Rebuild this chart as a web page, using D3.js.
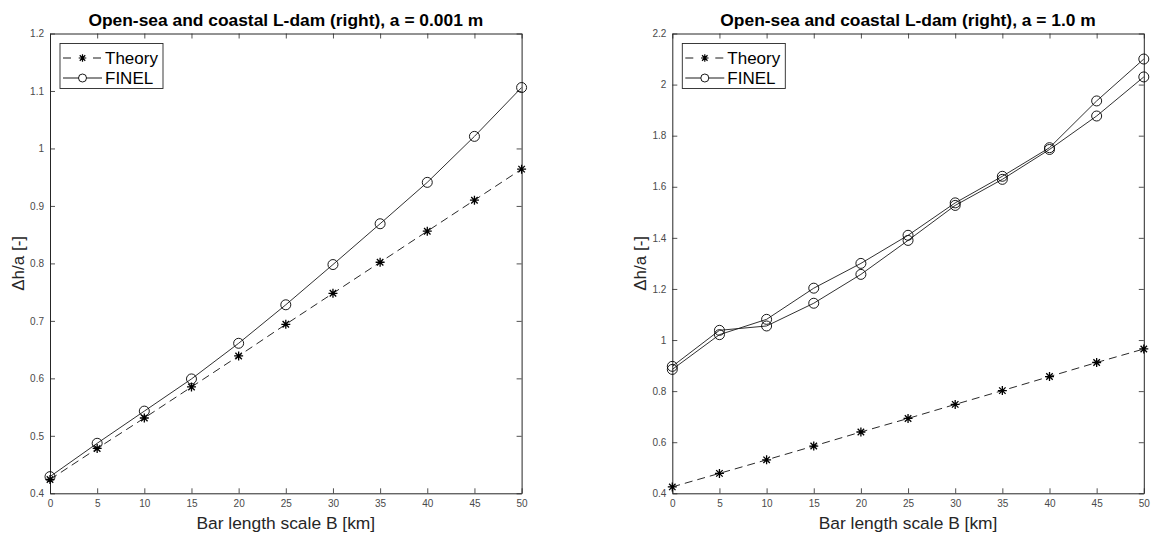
<!DOCTYPE html>
<html><head><meta charset="utf-8">
<script src="https://cdn.jsdelivr.net/npm/d3@7"></script>
<style>
body{margin:0;background:#fff}
svg{display:block;font-family:"Liberation Sans",Arial,Helvetica,sans-serif}
</style>
</head><body>
<svg id="chart" width="1161" height="536"></svg>
<script>
// ---------------- data ----------------
const barLengthB = [0, 5, 10, 15, 20, 25, 30, 35, 40, 45, 50];
const xTicks = [0, 5, 10, 15, 20, 25, 30, 35, 40, 45, 50];

// left panel: a = 0.001 m
const theoryLeft = [0.424, 0.478, 0.531, 0.585, 0.639, 0.694, 0.748, 0.802, 0.856, 0.910, 0.964];
const finelLeft  = [0.429, 0.487, 0.543, 0.599, 0.661, 0.728, 0.798, 0.869, 0.941, 1.021, 1.106];
const yTicksLeft = [0.4, 0.5, 0.6, 0.7, 0.8, 0.9, 1.0, 1.1, 1.2];

// right panel: a = 1.0 m
const theoryRight = [0.425, 0.478, 0.531, 0.585, 0.640, 0.693, 0.748, 0.802, 0.857, 0.912, 0.965];
const finelRightA = [0.897, 1.038, 1.055, 1.144, 1.257, 1.390, 1.527, 1.629, 1.746, 1.877, 2.030];
const finelRightB = [0.885, 1.021, 1.081, 1.203, 1.300, 1.410, 1.537, 1.641, 1.753, 1.936, 2.100];
const yTicksRight = [0.4, 0.6, 0.8, 1.0, 1.2, 1.4, 1.6, 1.8, 2.0, 2.2];

const titles = ["Open-sea and coastal L-dam (right), a = 0.001 m",
                "Open-sea and coastal L-dam (right), a = 1.0 m"];
const xLabel = "Bar length scale B [km]";
const yLabel = "\u0394h/a [-]";
const legendLabels = ["Theory", "FINEL"];

// ---------------- drawing ----------------
const svg = d3.select("#chart");
const AX = "#262626";

const panels = [
  {x0: 50, x1: 521.6, y0: 33.5, y1: 493.3, yDomain: [0.4, 1.2], yTicks: yTicksLeft,
   title: titles[0], theory: theoryLeft, finel: [finelLeft]},
  {x0: 672.3, x1: 1143.8, y0: 33.5, y1: 493.3, yDomain: [0.4, 2.2], yTicks: yTicksRight,
   title: titles[1], theory: theoryRight, finel: [finelRightA, finelRightB]}
];

const fmt = d => String(+d.toFixed(1));

function starPath(s) {
  const d = s * 0.72;
  return `M${-s},0L${s},0M0,${-s}L0,${s}M${-d},${-d}L${d},${d}M${-d},${d}L${d},${-d}`;
}

panels.forEach(p => {
  const x = d3.scaleLinear().domain([0, 50]).range([p.x0, p.x1]);
  const y = d3.scaleLinear().domain(p.yDomain).range([p.y1, p.y0]);
  const g = svg.append("g");

  // axes
  const axB = g.append("g").attr("transform", `translate(0,${p.y1})`)
    .call(d3.axisBottom(x).tickValues(xTicks).tickFormat(fmt).tickSizeInner(-5).tickSizeOuter(0).tickPadding(7));
  const axL = g.append("g").attr("transform", `translate(${p.x0},0)`)
    .call(d3.axisLeft(y).tickValues(p.yTicks).tickFormat(fmt).tickSizeInner(-5).tickSizeOuter(0).tickPadding(6));
  const axT = g.append("g").attr("transform", `translate(0,${p.y0})`)
    .call(d3.axisTop(x).tickValues(xTicks).tickFormat("").tickSizeInner(-5).tickSizeOuter(0));
  const axR = g.append("g").attr("transform", `translate(${p.x1},0)`)
    .call(d3.axisRight(y).tickValues(p.yTicks).tickFormat("").tickSizeInner(-5).tickSizeOuter(0));
  [axB, axL, axT, axR].forEach(a => {
    a.select(".domain").attr("stroke", AX).attr("stroke-width", 1);
    a.selectAll(".tick line").attr("stroke", AX).attr("stroke-width", 0.8);
    a.selectAll("text").attr("fill", "#4a4a4a").style("font-size", "10px")
      .style("font-family", '"Liberation Sans",Arial,sans-serif');
  });

  // title
  g.append("text").attr("x", (p.x0 + p.x1) / 2).attr("y", 26)
    .attr("text-anchor", "middle").style("font-size", "17.4px").style("font-weight", "bold")
    .attr("fill", "#000").text(p.title);
  // x label
  g.append("text").attr("x", (p.x0 + p.x1) / 2).attr("y", 529)
    .attr("text-anchor", "middle").style("font-size", "17.4px").attr("fill", "#262626").text(xLabel);
  // y label
  g.append("text").attr("transform", `translate(${p.x0 - 26},${(p.y0 + p.y1) / 2}) rotate(-90)`)
    .attr("text-anchor", "middle").style("font-size", "17px").attr("fill", "#262626").text(yLabel);

  const line = d3.line().x((d, i) => x(barLengthB[i])).y(d => y(d));

  // theory
  g.append("path").datum(p.theory).attr("d", line)
    .attr("fill", "none").attr("stroke", "#111").attr("stroke-width", 0.9).attr("stroke-dasharray", "8,5");
  g.selectAll(null).data(p.theory).enter().append("path")
    .attr("transform", (d, i) => `translate(${x(barLengthB[i])},${y(d)})`)
    .attr("d", starPath(4.5)).attr("fill", "none").attr("stroke", "#000").attr("stroke-width", 1.3);

  // FINEL
  p.finel.forEach(series => {
    g.append("path").datum(series).attr("d", line)
      .attr("fill", "none").attr("stroke", "#1a1a1a").attr("stroke-width", 0.9);
    g.selectAll(null).data(series).enter().append("circle")
      .attr("cx", (d, i) => x(barLengthB[i])).attr("cy", d => y(d)).attr("r", 5)
      .attr("fill", "none").attr("stroke", "#000").attr("stroke-width", 0.9);
  });

  // legend
  const lx = p.x0 + 10, ly = p.y0 + 10;
  const lg = g.append("g").attr("transform", `translate(${lx},${ly})`);
  lg.append("rect").attr("x", 0).attr("y", 0).attr("width", 103).attr("height", 45)
    .attr("fill", "#fff").attr("stroke", AX).attr("stroke-width", 0.9);
  // theory entry
  lg.append("line").attr("x1", 3).attr("x2", 42).attr("y1", 14.5).attr("y2", 14.5)
    .attr("stroke", "#000").attr("stroke-width", 0.9).attr("stroke-dasharray", "8,22");
  lg.append("path").attr("transform", "translate(22.5,14.5)").attr("d", starPath(3.8))
    .attr("fill", "none").attr("stroke", "#000").attr("stroke-width", 1.2);
  lg.append("text").attr("x", 45).attr("y", 20.5).style("font-size", "17px").attr("fill", "#000").text(legendLabels[0]);
  // finel entry
  lg.append("line").attr("x1", 3).attr("x2", 42).attr("y1", 34.5).attr("y2", 34.5)
    .attr("stroke", "#000").attr("stroke-width", 0.9);
  lg.append("circle").attr("cx", 22.5).attr("cy", 34.5).attr("r", 4)
    .attr("fill", "#fff").attr("stroke", "#000").attr("stroke-width", 0.9);
  lg.append("text").attr("x", 45).attr("y", 40.5).style("font-size", "17px").attr("fill", "#000").text(legendLabels[1]);
});
</script>
</body></html>
